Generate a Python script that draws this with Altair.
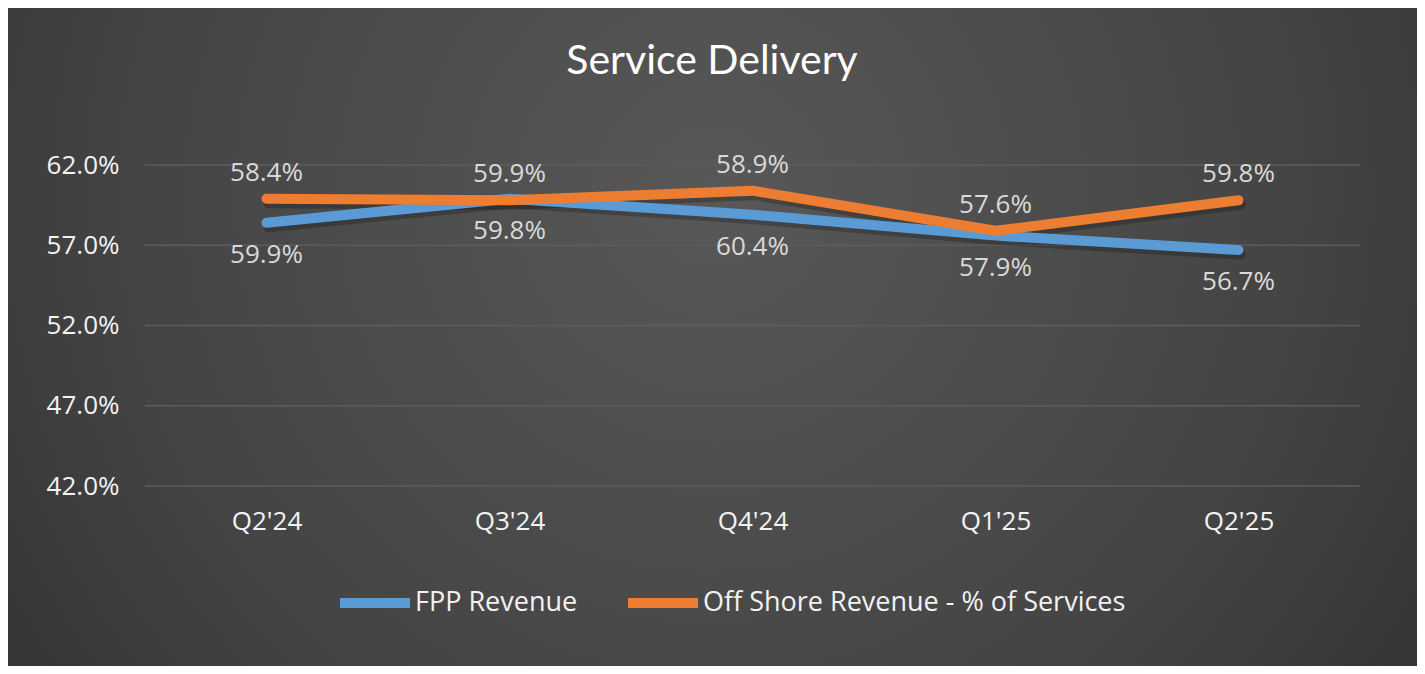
import altair as alt
import pandas as pd

quarters = ["Q2'24", "Q3'24", "Q4'24", "Q1'25", "Q2'25"]
fpp_revenue = [58.4, 59.9, 58.9, 57.6, 56.7]
offshore_revenue = [59.9, 59.8, 60.4, 57.9, 59.8]
series_names = ["FPP Revenue", "Off Shore Revenue - % of Services"]
top_labels = ["58.4%", "59.9%", "58.9%", "57.6%", "59.8%"]
bottom_labels = ["59.9%", "59.8%", "60.4%", "57.9%", "56.7%"]
y_ticks = [42, 47, 52, 57, 62]
title_text = "Service Delivery"

W, H = 1215, 321
PAD_L, PAD_T = 137, 157
TOTAL_W, TOTAL_H = 1409, 658

rows = []
for q, a, b in zip(quarters, fpp_revenue, offshore_revenue):
    rows.append({"quarter": q, "series": series_names[0], "value": a})
    rows.append({"quarter": q, "series": series_names[1], "value": b})
df = pd.DataFrame(rows)

lab = pd.DataFrame({
    "quarter": quarters,
    "top": top_labels,
    "bottom": bottom_labels,
    "hi": offshore_revenue,
    "lo": fpp_revenue,
})

ticks_df = pd.DataFrame({"tick": y_ticks})

x_axis = alt.Axis(title=None, labelAngle=0, labelFontSize=26, labelColor="#f2f2f2",
                  labelFont="Open Sans", labelPadding=22, ticks=False, domain=False,
                  grid=False, zindex=2)
y_axis = alt.Axis(title=None, values=y_ticks, labelExpr="format(datum.value, '.1f') + '%'",
                  labelFontSize=26, labelColor="#f2f2f2", labelFont="Open Sans",
                  labelPadding=26, ticks=False, domain=False, grid=False, zindex=2)
x_scale = alt.Scale(type="point", padding=0.5)
y_scale = alt.Scale(domain=[42, 62], nice=False, zero=False)


def xenc():
    return alt.X("quarter:N", sort=quarters, scale=x_scale, axis=x_axis)


def yenc(field):
    return alt.Y(f"{field}:Q", scale=y_scale, axis=y_axis)


bg = alt.Chart(alt.Data(values=[{}])).mark_rect(
    color=alt.Gradient(
        gradient="radial",
        stops=[alt.GradientStop(offset=0, color="#585858"),
               alt.GradientStop(offset=0.55, color="#444444"),
               alt.GradientStop(offset=1, color="#2a2a2a")],
        x1=0.5, y1=0.4, x2=0.5, y2=0.4, r1=0, r2=0.75)
).encode(
    x=alt.value(-PAD_L), x2=alt.value(TOTAL_W - PAD_L),
    y=alt.value(-PAD_T), y2=alt.value(TOTAL_H - PAD_T),
)

grid = alt.Chart(ticks_df).mark_rule(color="#5c5c5c", strokeWidth=1.5).encode(
    y=yenc("tick"),
    x=alt.value(0), x2=alt.value(W),
)

shadow = alt.Chart(df).mark_line(
    strokeWidth=11, color="black", opacity=0.22, yOffset=4, xOffset=2,
    strokeCap="round", strokeJoin="round"
).encode(
    x=xenc(),
    y=yenc("value"),
    detail="series:N",
)

lines = alt.Chart(df).mark_line(
    strokeWidth=10, strokeCap="round", strokeJoin="round"
).encode(
    x=xenc(),
    y=yenc("value"),
    color=alt.Color("series:N", sort=series_names,
                    scale=alt.Scale(domain=series_names, range=["#5b9bd5", "#ed7d31"]),
                    legend=alt.Legend(title=None, orient="none", legendX=190, legendY=398,
                                      direction="horizontal", symbolType="stroke",
                                      symbolSize=4900, symbolStrokeWidth=10,
                                      labelFontSize=27, labelFont="Open Sans",
                                      labelColor="#f2f2f2", labelOffset=0,
                                      columnPadding=30, labelLimit=700, zindex=2)),
)

top_text = alt.Chart(lab).mark_text(
    dy=-26, fontSize=26, font="Open Sans", color="#d9d9d9", baseline="middle"
).encode(
    x=xenc(),
    y=yenc("hi"),
    text="top:N",
)

bottom_text = alt.Chart(lab).mark_text(
    dy=32, fontSize=26, font="Open Sans", color="#d9d9d9", baseline="middle"
).encode(
    x=xenc(),
    y=yenc("lo"),
    text="bottom:N",
)

title = alt.Chart(alt.Data(values=[{"t": title_text}])).mark_text(
    fontSize=41, font="Lato", color="white", baseline="middle", align="center"
).encode(
    x=alt.value(712 - 8 - PAD_L), y=alt.value(62 - 8 - PAD_T), text="t:N"
)

chart = alt.layer(bg, grid, shadow, lines, top_text, bottom_text, title).properties(
    width=W, height=H,
    autosize=alt.AutoSizeParams(type="none"),
    padding={"left": PAD_L, "top": PAD_T, "right": TOTAL_W - PAD_L - W,
             "bottom": TOTAL_H - PAD_T - H},
    background="#3a3a3a",
).configure_view(stroke=None)

chart.save("out.html", embed_options={"renderer": "svg", "actions": False})
